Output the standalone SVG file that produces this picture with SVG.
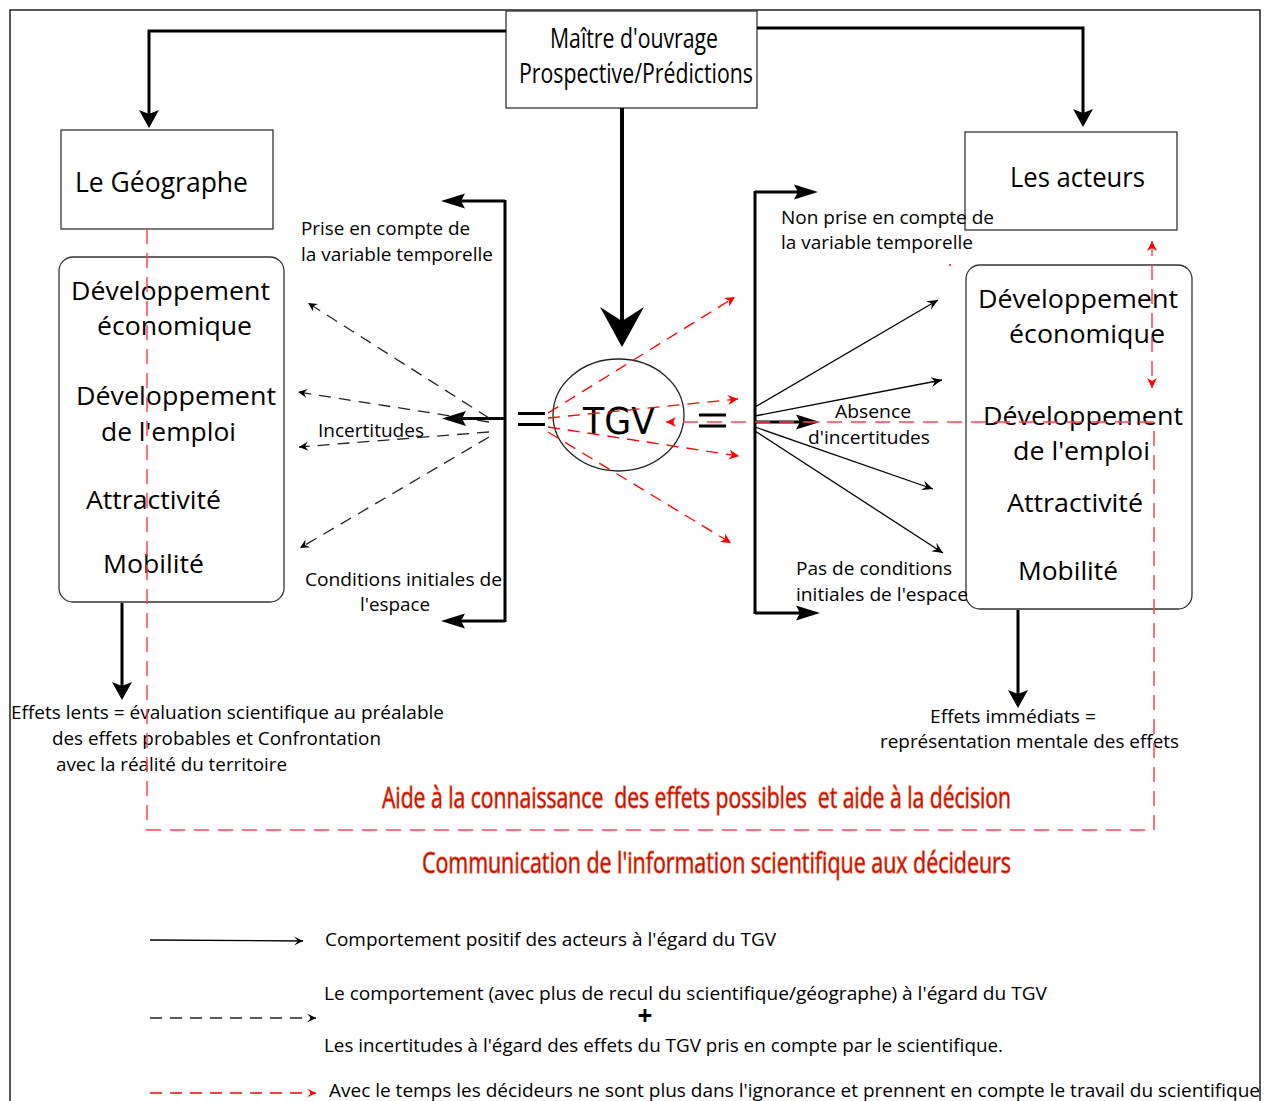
<svg xmlns="http://www.w3.org/2000/svg" width="1267" height="1101" viewBox="0 0 1267 1101">
<style>
.box{fill:none;stroke:#333;stroke-width:1.3}
.t{font-family:"Open Sans","Liberation Sans",sans-serif;fill:#000}
.n{font-family:"Liberation Sans Narrow","Open Sans","Liberation Sans",sans-serif;fill:#000}
.big{font-size:26px}
.sm{font-size:18.5px}
.red{font-family:"Liberation Sans Narrow","Open Sans","Liberation Sans",sans-serif;font-size:29px;fill:#9a0c00;stroke:#ff3a14;stroke-width:0.8;white-space:pre}
.thick{stroke:#000;stroke-width:3;fill:none}
.thin{stroke:#000;stroke-width:1.3;fill:none}
.dash{stroke:#222;stroke-width:1.3;stroke-dasharray:12 8;fill:none}
.rdash{stroke:#f00;stroke-width:1.3;stroke-dasharray:12 8;fill:none}
.loop{stroke:#ff4450;stroke-width:1.5;stroke-dasharray:15 9;fill:none}
</style>
<defs>
<marker id="mA" markerUnits="userSpaceOnUse" orient="auto" refX="0" refY="0" markerWidth="40" markerHeight="40" overflow="visible"><path d="M10,0 L-8,-10 L-4,0 L-8,10 Z" fill="#000"/></marker>
<marker id="mB" markerUnits="userSpaceOnUse" orient="auto" refX="0" refY="0" markerWidth="60" markerHeight="60" overflow="visible"><path d="M24,0 L-16,-22 L-2,0 L-16,22 Z" fill="#000"/></marker>
<marker id="mC" markerUnits="userSpaceOnUse" orient="auto" refX="0" refY="0" markerWidth="40" markerHeight="40" overflow="visible"><path d="M14,0 L-10,-7.5 L-6,0 L-10,7.5 Z" fill="#000"/></marker>
<marker id="mD" markerUnits="userSpaceOnUse" orient="auto" refX="0" refY="0" markerWidth="30" markerHeight="30" overflow="visible"><path d="M0,0 L-11,-5 L-7,0 L-11,5 Z" fill="#000"/></marker>
<marker id="mE" markerUnits="userSpaceOnUse" orient="auto" refX="0" refY="0" markerWidth="30" markerHeight="30" overflow="visible"><path d="M0,0 L-9,-4.5 L-6,0 L-9,4.5 Z" fill="#000"/></marker>
<marker id="mR" markerUnits="userSpaceOnUse" orient="auto-start-reverse" refX="0" refY="0" markerWidth="30" markerHeight="30" overflow="visible"><path d="M0,0 L-10,-5 L-7,0 L-10,5 Z" fill="#f00"/></marker>
<marker id="mL" markerUnits="userSpaceOnUse" orient="auto" refX="0" refY="0" markerWidth="30" markerHeight="30" overflow="visible"><path d="M0,0 L-9,-4.5 L-5,0 L-9,4.5 Z" fill="#000"/></marker>
<marker id="mLR" markerUnits="userSpaceOnUse" orient="auto" refX="0" refY="0" markerWidth="30" markerHeight="30" overflow="visible"><path d="M0,0 L-9,-4.5 L-5,0 L-9,4.5 Z" fill="#f00"/></marker>
</defs>
<rect width="1267" height="1101" fill="#fff"/>
<path d="M10,1101 V10 H1260 V1101" fill="none" stroke="#222" stroke-width="1.5"/>

<g id="maitre">
<rect class="box" x="506" y="11" width="251" height="97"/>
<text class="n" font-size="27" x="550" y="48" textLength="168" lengthAdjust="spacingAndGlyphs">Maître d'ouvrage</text>
<text class="n" font-size="27" x="519" y="83" textLength="234" lengthAdjust="spacingAndGlyphs">Prospective/Prédictions</text>
</g>
<g id="geographe">
<rect class="box" x="61" y="130" width="212" height="99"/>
<text class="t" font-size="28" x="75" y="192" textLength="173" lengthAdjust="spacingAndGlyphs">Le Géographe</text>
</g>
<g id="acteurs">
<rect class="box" x="965" y="132" width="212" height="98"/>
<text class="t" font-size="28" x="1010" y="187" textLength="135" lengthAdjust="spacingAndGlyphs">Les acteurs</text>
</g>
<g id="effets-gauche">
<rect class="box" x="59" y="257" width="225" height="345" rx="14"/>
<text class="t big" x="71" y="300" textLength="199" lengthAdjust="spacingAndGlyphs">Développement</text>
<text class="t big" x="97" y="335" textLength="155" lengthAdjust="spacingAndGlyphs">économique</text>
<text class="t big" x="76" y="405" textLength="200" lengthAdjust="spacingAndGlyphs">Développement</text>
<text class="t big" x="101" y="441" textLength="135" lengthAdjust="spacingAndGlyphs">de l'emploi</text>
<text class="t big" x="86" y="509" textLength="135" lengthAdjust="spacingAndGlyphs">Attractivité</text>
<text class="t big" x="103" y="573" textLength="101" lengthAdjust="spacingAndGlyphs">Mobilité</text>
</g>
<g id="effets-droite">
<rect class="box" x="966" y="265" width="226" height="344" rx="14"/>
<text class="t big" x="978" y="308" textLength="200" lengthAdjust="spacingAndGlyphs">Développement</text>
<text class="t big" x="1009" y="343" textLength="156" lengthAdjust="spacingAndGlyphs">économique</text>
<text class="t big" x="983" y="425" textLength="200" lengthAdjust="spacingAndGlyphs">Développement</text>
<text class="t big" x="1013" y="460" textLength="137" lengthAdjust="spacingAndGlyphs">de l'emploi</text>
<text class="t big" x="1007" y="512" textLength="136" lengthAdjust="spacingAndGlyphs">Attractivité</text>
<text class="t big" x="1018" y="580" textLength="100" lengthAdjust="spacingAndGlyphs">Mobilité</text>
</g>
<g id="tgv">
<ellipse cx="618.5" cy="415" rx="65.5" ry="56" fill="none" stroke="#222" stroke-width="1.3"/>
<text font-family="'DejaVu Sans',sans-serif" font-size="38" x="583" y="434" textLength="72" lengthAdjust="spacingAndGlyphs">TGV</text>
<path d="M518,413.5 H545 M518,424.5 H545 M699,415 H726 M699,426 H726" stroke="#000" stroke-width="3"/>
</g>

<g id="labels">
<text class="t sm" x="301" y="235" textLength="169" lengthAdjust="spacingAndGlyphs">Prise en compte de</text>
<text class="t sm" x="301" y="261" textLength="192" lengthAdjust="spacingAndGlyphs">la variable temporelle</text>
<text class="t sm" x="318" y="437" textLength="106" lengthAdjust="spacingAndGlyphs">Incertitudes</text>
<text class="t sm" x="305" y="586" textLength="197" lengthAdjust="spacingAndGlyphs">Conditions initiales de</text>
<text class="t sm" x="360" y="611" textLength="70" lengthAdjust="spacingAndGlyphs">l'espace</text>
<text class="n sm" x="781" y="224" textLength="213" lengthAdjust="spacingAndGlyphs">Non prise en compte de</text>
<text class="n sm" x="781" y="249" textLength="192" lengthAdjust="spacingAndGlyphs">la variable temporelle</text>
<text class="n sm" x="835" y="418" textLength="76" lengthAdjust="spacingAndGlyphs">Absence</text>
<text class="n sm" x="808" y="444" textLength="122" lengthAdjust="spacingAndGlyphs">d'incertitudes</text>
<text class="n sm" x="796" y="575" textLength="156" lengthAdjust="spacingAndGlyphs">Pas de conditions</text>
<text class="n sm" x="796" y="601" textLength="172" lengthAdjust="spacingAndGlyphs">initiales de l'espace</text>
<text class="t sm" x="11" y="719" textLength="433" lengthAdjust="spacingAndGlyphs">Effets lents = évaluation scientifique au préalable</text>
<text class="t sm" x="52" y="745" textLength="329" lengthAdjust="spacingAndGlyphs">des effets probables et Confrontation</text>
<text class="t sm" x="56" y="771" textLength="231" lengthAdjust="spacingAndGlyphs">avec la réalité du territoire</text>
<text class="t sm" x="930" y="723" textLength="166" lengthAdjust="spacingAndGlyphs">Effets immédiats =</text>
<text class="t sm" x="880" y="748" textLength="299" lengthAdjust="spacingAndGlyphs">représentation mentale des effets</text>
<text class="red" x="382" y="808" textLength="629" lengthAdjust="spacingAndGlyphs">Aide à la connaissance  des effets possibles  et aide à la décision</text>
<text class="red" x="422" y="873" textLength="589" lengthAdjust="spacingAndGlyphs">Communication de l'information scientifique aux décideurs</text>
</g>

<g id="connectors">
<path class="thick" d="M506,31 H149 V118" marker-end="url(#mA)"/>
<path class="thick" d="M757,28 H1083 V117" marker-end="url(#mA)"/>
<path d="M622,108 V323" stroke="#000" stroke-width="4" fill="none" marker-end="url(#mB)"/>
<path class="thick" d="M505,200 V622"/>
<path class="thick" d="M505,201 H455" marker-end="url(#mC)"/>
<path class="thick" d="M505,418.5 H456" marker-end="url(#mC)"/>
<path class="thick" d="M505,621 H455" marker-end="url(#mC)"/>
<path class="thick" d="M755,191 V614"/>
<path class="thick" d="M755,192 H804" marker-end="url(#mC)"/>
<path class="thick" d="M755,422 H806" marker-end="url(#mC)"/>
<path class="thick" d="M755,613 H806" marker-end="url(#mC)"/>
<path class="thin" d="M755,407 L938,300" marker-end="url(#mD)"/>
<path class="thin" d="M755,416 L942,380" marker-end="url(#mD)"/>
<path class="thin" d="M755,427 L933,489" marker-end="url(#mD)"/>
<path class="thin" d="M755,431 L943,553" marker-end="url(#mD)"/>
<path class="dash" d="M489,418 L308,303" marker-end="url(#mE)"/>
<path class="dash" d="M489,422 L298,392" marker-end="url(#mE)"/>
<path class="dash" d="M489,432 L299,447" marker-end="url(#mE)"/>
<path class="dash" d="M489,437 L300,548" marker-end="url(#mE)"/>
<path class="rdash" d="M548,413 L735,297" marker-end="url(#mR)"/>
<path class="rdash" d="M548,418 L738,399" marker-end="url(#mR)"/>
<path class="rdash" d="M548,427 L739,456" marker-end="url(#mR)"/>
<path class="rdash" d="M548,432 L731,543" marker-end="url(#mR)"/>
<path class="loop" d="M147,229 V830 H1154 V422 H666" marker-end="url(#mR)"/>
<path class="loop" d="M1152,241 V388" marker-start="url(#mR)" marker-end="url(#mR)"/>
<circle cx="950" cy="265" r="1" fill="#f00"/>
<path class="thick" d="M122,603 V690" marker-end="url(#mA)"/>
<path class="thick" d="M1018,610 V698" marker-end="url(#mA)"/>
</g>

<g id="legende">
<path class="thin" d="M150,940 L303,941" marker-end="url(#mL)"/>
<path class="dash" d="M150,1018 H316" stroke-dasharray="12 10" marker-end="url(#mL)"/>
<path class="rdash" d="M150,1093 H316" stroke-dasharray="12 10" marker-end="url(#mLR)"/>
<text class="n" font-size="19" x="325" y="946" textLength="451" lengthAdjust="spacingAndGlyphs">Comportement positif des acteurs à l'égard du TGV</text>
<text class="n" font-size="19" x="324" y="1000" textLength="723" lengthAdjust="spacingAndGlyphs">Le comportement (avec plus de recul du scientifique/géographe) à l'égard du TGV</text>
<text class="t" font-size="26" font-weight="bold" x="645" y="1025" text-anchor="middle">+</text>
<text class="n" font-size="19" x="324" y="1052" textLength="679" lengthAdjust="spacingAndGlyphs">Les incertitudes à l'égard des effets du TGV pris en compte par le scientifique.</text>
<text class="n" font-size="19" x="329" y="1097" textLength="931" lengthAdjust="spacingAndGlyphs">Avec le temps les décideurs ne sont plus dans l'ignorance et prennent en compte le travail du scientifique</text>
</g>
</svg>
